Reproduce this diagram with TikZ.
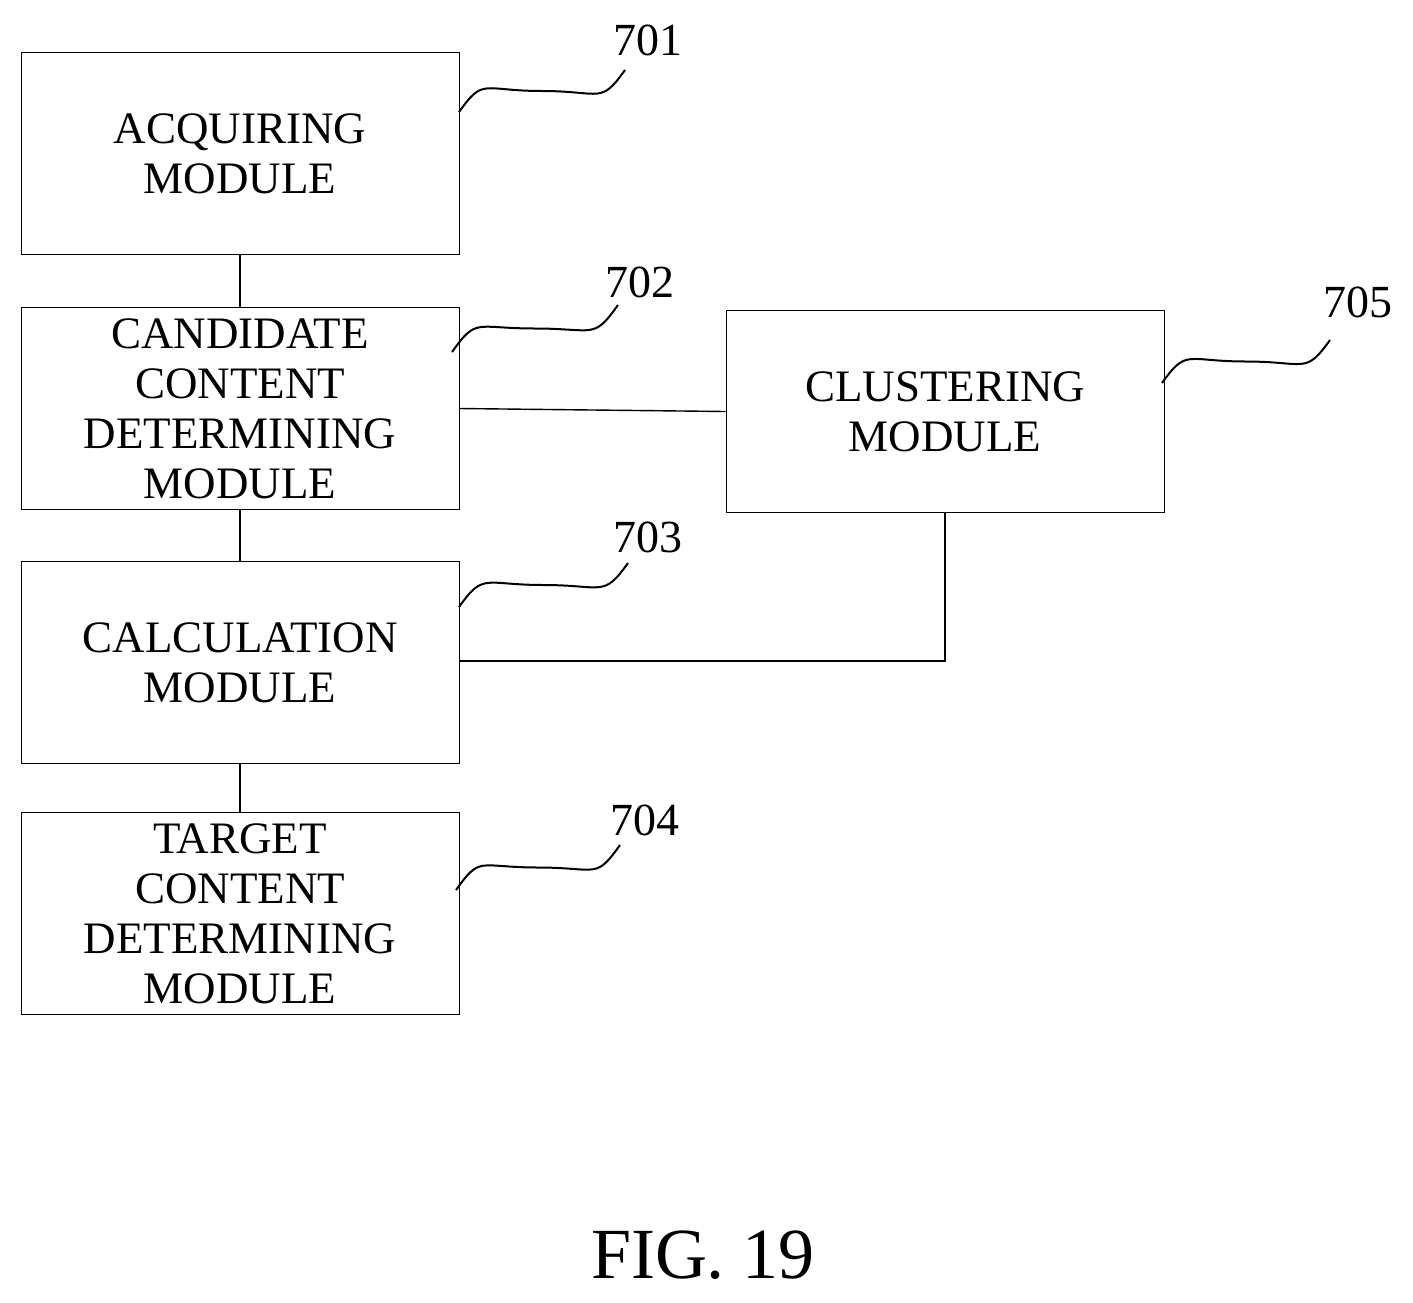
\documentclass[tikz,border=0pt]{standalone}
\usepackage{fontspec}
\setmainfont{Liberation Serif}
\begin{document}
\begin{tikzpicture}[x=1pt,y=-1pt,
 box/.style={draw,line width=1pt,minimum width=438pt,minimum height=202pt,align=center,font=\fontsize{45}{50}\selectfont,inner sep=0pt},
 lbl/.style={font=\fontsize{46}{50}\selectfont},
 ln/.style={line width=1.4pt},
 sq/.style={line width=2pt}]
\useasboundingbox (0,0) rectangle (1413,1302);
\node[box] (a) at (240,153.5) {ACQUIRING\\MODULE};
\node[box] (b) at (240,408.5) {CANDIDATE\\CONTENT\\DETERMINING\\MODULE};
\node[box] (c) at (240,662.5) {CALCULATION\\MODULE};
\node[box] (d) at (240,913.5) {TARGET\\CONTENT\\DETERMINING\\MODULE};
\node[box] (e) at (945,411.5) {CLUSTERING\\MODULE};
\draw[ln] (a.south) -- (b.north);
\draw[ln] (b.south) -- (c.north);
\draw[ln] (c.south) -- (d.north);
\draw[ln] (b.east) -- (e.west);
\coordinate (k) at (945,661);
\draw[ln] (e.south) -- (k) -- (c.east |- k);
\node[lbl] (l1) at (648,40) {701};
\node[lbl] (l2) at (640,282) {702};
\node[lbl] (l3) at (648,537) {703};
\node[lbl] (l4) at (645,820) {704};
\node[lbl] (l5) at (1358,302) {705};
\foreach \xa/\ya/\xb/\yb in {459/112/625/70, 452/352/618/305, 459/607/628/563, 456/890/620/845, 1162/383/1330/340}{
 \pgfmathsetmacro{\xm}{(\xa+\xb)/2}
 \pgfmathsetmacro{\ym}{(\ya+\yb)/2}
 \draw[sq] (\xa,\ya) .. controls +(25,-35) and +(-60,0) .. (\xm,\ym) .. controls +(60,0) and +(-25,35) .. (\xb,\yb);
}
\node[font=\fontsize{72}{80}\selectfont] (f) at (703,1255) {FIG. 19};
\end{tikzpicture}
\end{document}
